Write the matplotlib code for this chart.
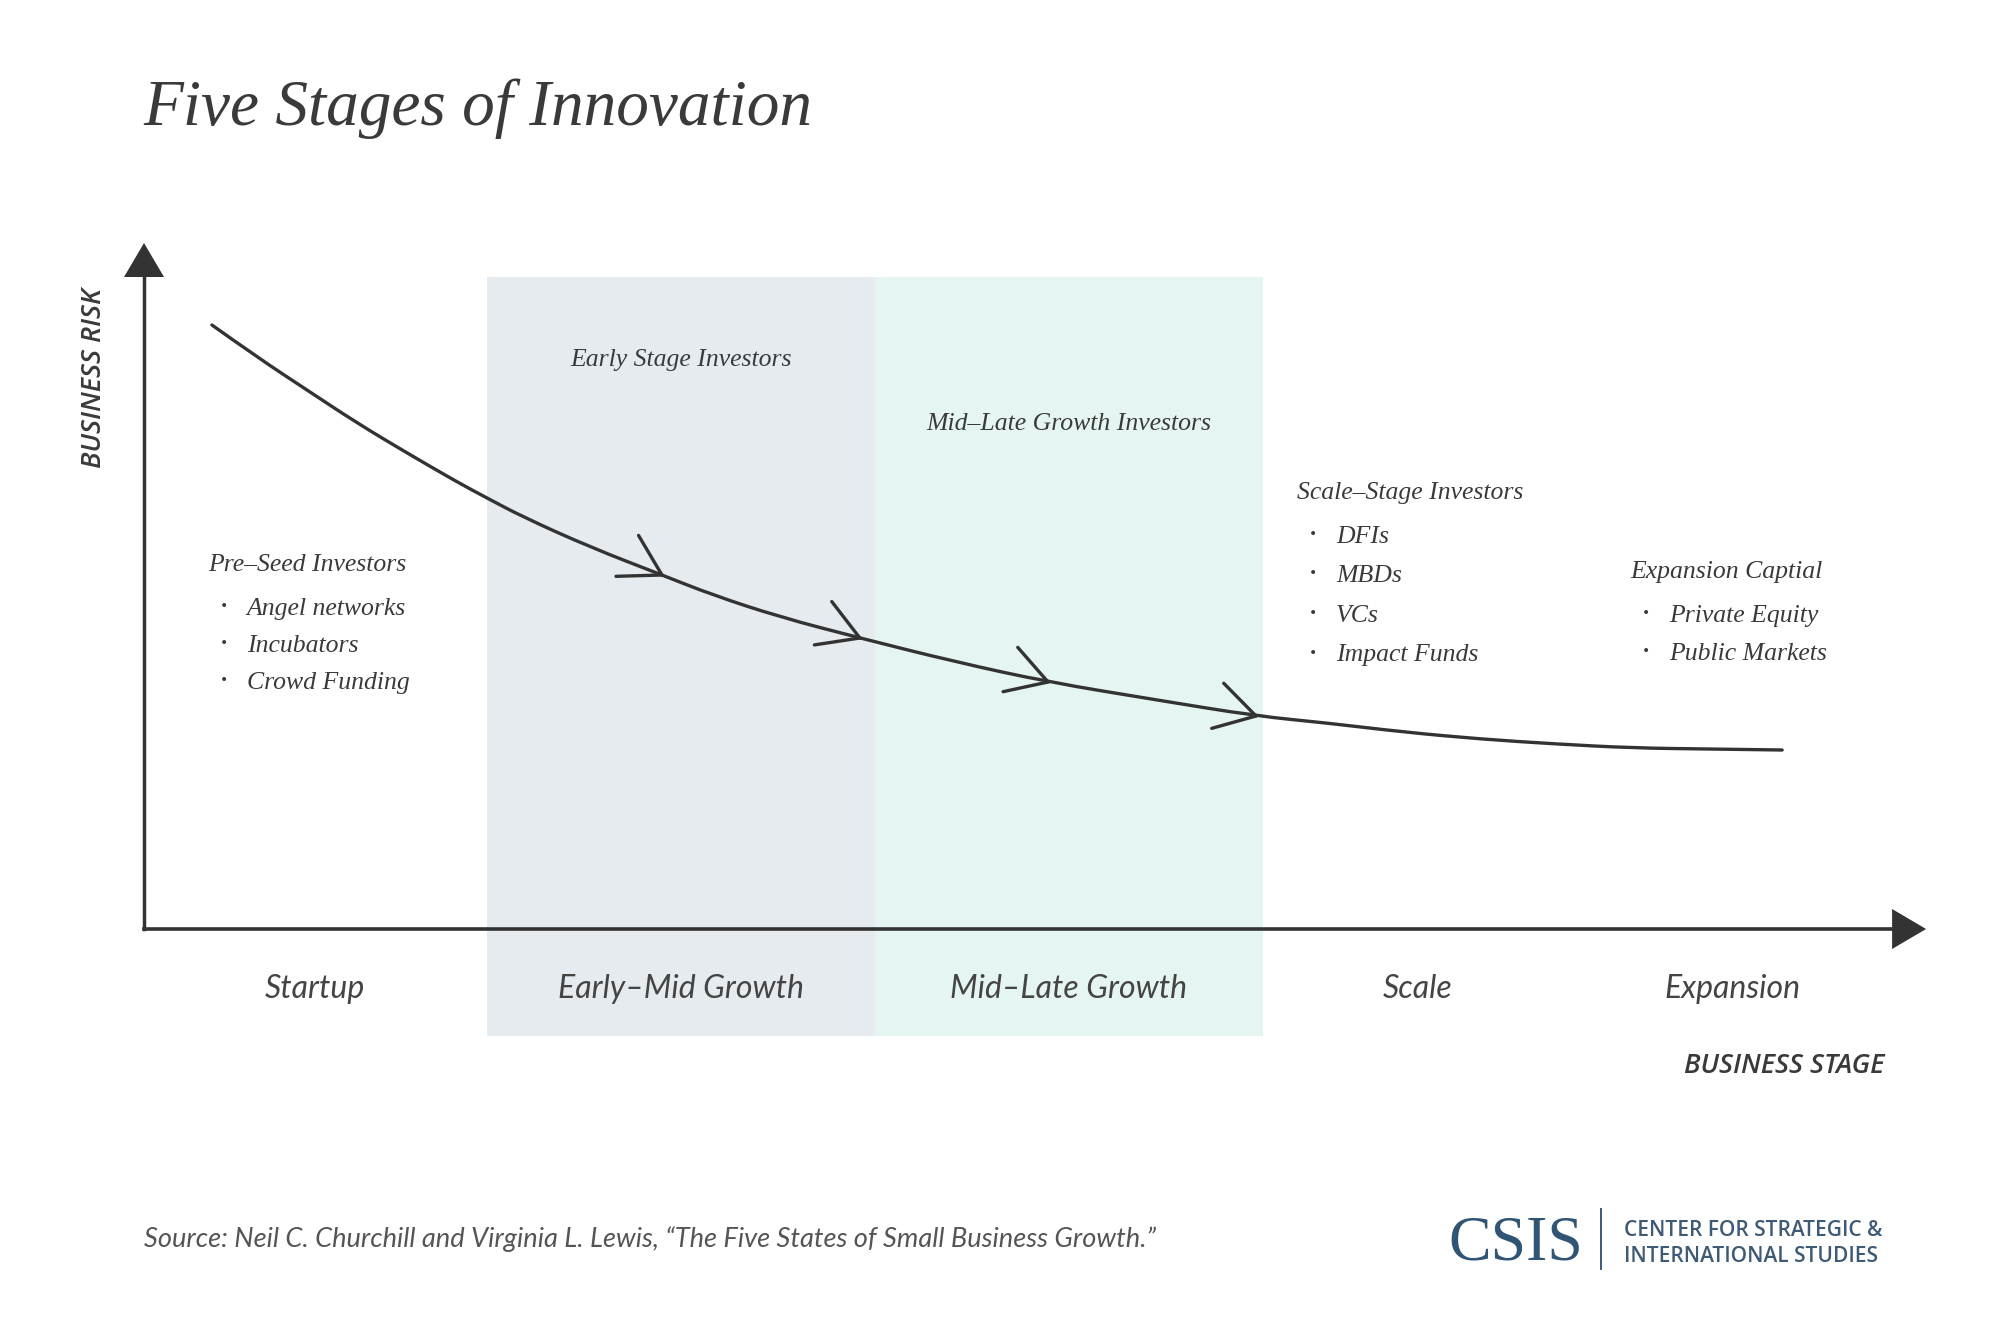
import numpy as np
import matplotlib
matplotlib.use("Agg")
import matplotlib.pyplot as plt
from matplotlib.patches import Polygon, Rectangle, PathPatch
from matplotlib.path import Path

# stages along the x axis (one unit per stage band)
stages = ["Startup", "Early–Mid Growth", "Mid–Late Growth", "Scale", "Expansion"]
stage_label_x = [0.557, 1.5, 2.5, 3.399, 4.211]
bands = [(1.0, 2.0, "#e6ebef"), (2.0, 3.0, "#e5f5f2")]

# risk curve (stage, risk)
curve_x = [0.291, 0.407, 0.536, 0.665, 0.794, 0.923, 1.0, 1.093, 1.265, 1.451,
           1.582, 1.755, 1.961, 2.209, 2.446, 2.727, 2.982, 3.165, 3.361, 3.559,
           3.755, 3.954, 4.149, 4.338]
curve_y = [6.04, 5.72, 5.39, 5.06, 4.76, 4.47, 4.31, 4.12, 3.82, 3.54,
           3.34, 3.12, 2.91, 2.67, 2.47, 2.29, 2.13, 2.06, 1.97, 1.90,
           1.85, 1.81, 1.80, 1.79]
chevron_x = [1.451, 1.961, 2.446, 2.982]

# investor groups: header, items, left x, header baseline, line step
groups = [
    ("Pre–Seed Investors", ["Angel networks", "Incubators", "Crowd Funding"], 0.281, 3.58, 0.37),
    ("Scale–Stage Investors", ["DFIs", "MBDs", "VCs", "Impact Funds"], 3.088, 4.30, 0.395),
    ("Expansion Captial", ["Private Equity", "Public Markets"], 3.946, 3.51, 0.38),
]
band_titles = [("Early Stage Investors", 1.5, 5.63), ("Mid–Late Growth Investors", 2.5, 4.99)]

TXT = "#3a3a3a"
AX = "#333333"
SERIF = "Liberation Serif"
SANS = "Lato"

W, H = 2000, 1322
fig = plt.figure(figsize=(W / 100, H / 100), dpi=100)
ax = fig.add_axes([0, 0, 1, 1])
ax.set_xlim(-99 / 388, (W - 99) / 388)
ax.set_ylim((929 - H) / 100, 929 / 100)
ax.axis("off")

y0, x0 = 0.0, 0.116
y_top, x_end = 6.86, 4.709

for a, b, c in bands:
    ax.add_patch(Rectangle((a, -1.07), b - a, 6.52 + 1.07, color=c, lw=0, zorder=0))

# axes with arrowheads
ax.plot([x0, x0], [y0, 6.6], color=AX, lw=2.5, zorder=3)
ax.plot([x0, 4.65], [y0, y0], color=AX, lw=2.6, zorder=3)
ax.add_patch(Polygon([[x0, y_top], [x0 - 20 / 388, y_top - 0.34], [x0 + 20 / 388, y_top - 0.34]],
                     closed=True, color=AX, lw=0, zorder=3))
ax.add_patch(Polygon([[x_end, y0], [x_end - 34 / 388, 0.20], [x_end - 34 / 388, -0.20]],
                     closed=True, color=AX, lw=0, zorder=3))

# risk curve, drawn as a smooth quadratic path through the read points
pts = np.column_stack([curve_x, curve_y])
verts = [pts[0]]
codes = [Path.MOVETO]
for i in range(1, len(pts) - 1):
    verts += [pts[i], (pts[i] + pts[i + 1]) / 2]
    codes += [Path.CURVE3, Path.CURVE3]
verts.append(pts[-1])
codes.append(Path.LINETO)
ax.add_patch(PathPatch(Path(verts, codes), fill=False, edgecolor=AX, lw=2.4,
                       capstyle="round", zorder=4))

# open chevrons along the curve
inv = ax.transData.inverted()
for cx in chevron_x:
    cy = np.interp(cx, curve_x, curve_y)
    p0 = ax.transData.transform((cx - 0.05, np.interp(cx - 0.05, curve_x, curve_y)))
    p1 = ax.transData.transform((cx + 0.05, np.interp(cx + 0.05, curve_x, curve_y)))
    tip = ax.transData.transform((cx, cy))
    back = np.degrees(np.arctan2(p0[1] - p1[1], p0[0] - p1[0]))
    for off in (-38, 23):
        ang = np.radians(back + off)
        end = tip + 46 * np.array([np.cos(ang), np.sin(ang)])
        seg = inv.transform([end, tip])
        ax.plot(seg[:, 0], seg[:, 1], color=AX, lw=2.4, solid_capstyle="round", zorder=4)

# stage labels
for lab, sx in zip(stages, stage_label_x):
    ax.text(sx, -0.69, lab, ha="center", va="baseline", fontsize=23, family=SANS,
            style="italic", color="#444444")

ax.text(4.601, -1.44, "BUSINESS STAGE", ha="right", va="baseline", fontsize=19.5,
        family="Open Sans", style="italic", weight="semibold", color=TXT)
ax.text(-0.013, 5.51, "BUSINESS RISK", ha="center", va="center", rotation=90, fontsize=19.5,
        family="Open Sans", style="italic", weight="semibold", color=TXT)

# investor annotations
for title, tx, ty in band_titles:
    ax.text(tx, ty, title, ha="center", va="baseline", fontsize=18.5, family=SERIF,
            style="italic", color=TXT)

for head, items, gx, gy, step in groups:
    ax.text(gx, gy, head, ha="left", va="baseline", fontsize=18.5, family=SERIF,
            style="italic", color=TXT)
    for i, item in enumerate(items):
        iy = gy - 0.44 - i * step
        ax.text(gx + 0.04, iy + 0.05, "•", ha="center", va="baseline", fontsize=10,
                family="DejaVu Sans", color=TXT)
        ax.text(gx + 0.10, iy, item, ha="left", va="baseline", fontsize=18.5, family=SERIF,
                style="italic", color=TXT)

# title, source and logo
fig.text(143 / W, 1 - 125 / H, "Five Stages of Innovation", ha="left", va="baseline",
         fontsize=47, family=SERIF, style="italic", color=TXT)
fig.text(144 / W, 1 - 1247 / H,
         "Source: Neil C. Churchill and Virginia L. Lewis, “The Five States of Small Business Growth.”",
         ha="left", va="baseline", fontsize=19.6, family=SANS, style="italic", color="#555555")

fig.text(1448 / W, 1 - 1260 / H, "CSIS", ha="left", va="baseline", fontsize=46,
         family=SERIF, color="#2f5474")
fig.add_artist(plt.Line2D([1601 / W, 1601 / W], [1 - 1209 / H, 1 - 1269 / H],
                          color="#3d5a76", lw=1.4))
fig.text(1624 / W, 1 - 1236 / H, "CENTER FOR STRATEGIC &", ha="left", va="baseline",
         fontsize=15, family="Open Sans", weight="semibold", color="#3d5a76")
fig.text(1624 / W, 1 - 1262 / H, "INTERNATIONAL STUDIES", ha="left", va="baseline",
         fontsize=15, family="Open Sans", weight="semibold", color="#3d5a76")

fig.savefig("out.png", dpi=100, facecolor="white")
